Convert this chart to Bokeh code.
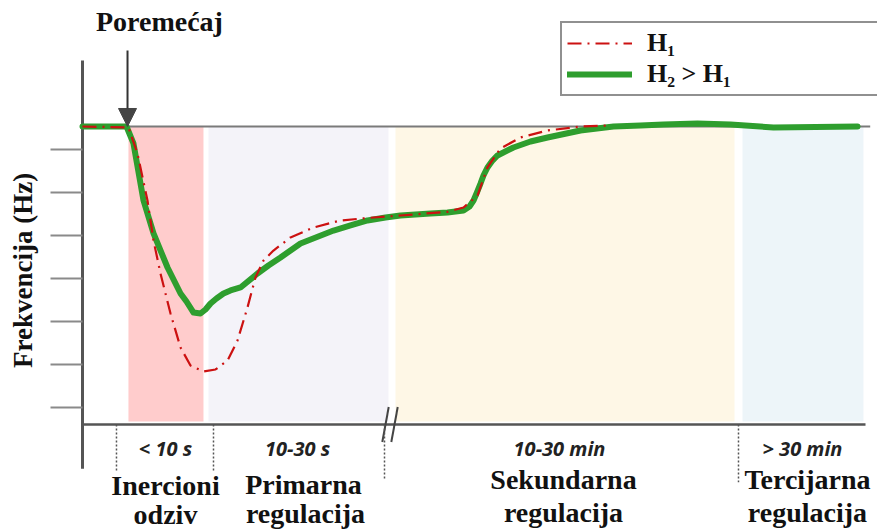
import numpy as np
from bokeh.plotting import figure
from bokeh.models import Range1d, Legend, LegendItem, Arrow, NormalHead
from bokeh.core.properties import value
from bokeh.embed import file_html
from bokeh.resources import INLINE

# ---------------- data (arbitrary time / frequency units) -------------
nominal = 7.535                      # nominal frequency level
y_ticks = [1, 2, 3, 4, 5, 6, 7]       # unlabeled frequency ticks
disturbance_t = 5.75                  # moment of the disturbance

# H2 > H1 (green, solid)
h2_t = [0, 5.62, 6.51, 7.79, 9.07, 10.86, 12.52, 13.28, 14.18, 15.07, 15.71, 16.35, 17.11,
        18.01, 18.90, 20.18, 22.35, 23.75, 25.29, 27.84, 32.06, 34.23, 36.40, 38.70, 40.61,
        44.44, 46.62, 48.66, 49.43, 49.94, 50.32, 50.83, 51.21, 51.72, 52.36, 53.00, 55.04,
        57.22, 59.39, 63.60, 67.82, 71.26, 74.20, 78.54, 82.76, 88.25, 98.98]
h2_f = [7.535, 7.535, 7.14, 5.814, 5.047, 4.256, 3.651, 3.465, 3.209, 3.186, 3.279, 3.419, 3.535,
        3.651, 3.721, 3.791, 4.116, 4.302, 4.488, 4.814, 5.116, 5.233, 5.349, 5.419, 5.465,
        5.512, 5.535, 5.582, 5.675, 5.814, 5.977, 6.209, 6.395, 6.582, 6.744, 6.861, 7.047,
        7.186, 7.279, 7.442, 7.535, 7.558, 7.581, 7.605, 7.581, 7.512, 7.535]

# H1 (red, dash-dot)
h1_t = [0, 5.87, 7.02, 8.30, 9.07, 9.96, 11.24, 12.52, 13.79, 15.45, 16.99, 18.52, 19.80,
        21.07, 22.09, 23.12, 24.39, 26.56, 29.50, 32.95, 37.16, 40.61, 46.62, 48.66, 50.45,
        51.72, 53.38, 55.94, 59.39, 63.60, 67.05]
h1_f = [7.535, 7.512, 6.907, 5.814, 4.884, 4.116, 3.186, 2.395, 1.977, 1.837, 1.884, 2.093, 2.558,
        3.326, 4.023, 4.419, 4.651, 4.954, 5.186, 5.349, 5.419, 5.465, 5.551, 5.651, 5.930,
        6.582, 7.023, 7.279, 7.442, 7.535, 7.558]

phase_start = [5.87, 16.09, 39.97, 84.29]
phase_end = [15.45, 39.08, 83.27, 99.74]
phase_names_1 = ["Inercioni", "Primarna", "Sekundarna", "Tercijarna"]
phase_names_2 = ["odziv", "regulacija", "regulacija", "regulacija"]
phase_durations = ["< 10 s", "10-30 s", "10-30 min", "> 30 min"]
separators = [4.34, 16.73, 38.57, 83.78]
legend_labels = ["H\u2081", "H\u2082 > H\u2081"]
y_title = "Frekvencija (Hz)"
event_title = "Poremećaj"

# ---------------- layout / style ----------------
W, H = 877, 530
PX_X = 7.83            # px per time unit
PX_Y = 43.0            # px per frequency unit
AX_X = 82              # canvas x of the frequency axis
Y1_CY = 407            # canvas y of frequency 1
x0 = -AX_X / PX_X
x1 = (W - AX_X) / PX_X
y_top = 1 + Y1_CY / PX_Y
y_bot = 1 - (H - Y1_CY) / PX_Y

time_axis_end = 100.0
freq_axis_bottom = 0.605
freq_axis_top = 9.07
shade_bottom = 0.674
phase_colors = ["#FFCCCC", "#F4F3F9", "#FEF7E6", "#EDF5F9"]
sep_bottoms = [-0.51, -0.51, -0.70, -0.74]

p = figure(width=W, height=H, x_range=Range1d(x0, x1), y_range=Range1d(y_bot, y_top),
           output_backend="svg", toolbar_location=None, min_border=0,
           x_axis_type=None, y_axis_type=None)
p.outline_line_color = None
p.background_fill_color = "white"

# phase shading
p.quad(left=phase_start, right=phase_end, top=[nominal] * 4, bottom=[shade_bottom] * 4,
       fill_color=phase_colors, line_color=None)

# nominal reference line
p.segment(x0=[0], y0=[nominal], x1=[100.6], y1=[nominal], line_color="#7a7a7a", line_width=2)

# axes
p.segment(x0=[0], y0=[freq_axis_bottom], x1=[time_axis_end], y1=[freq_axis_bottom],
          line_color="#555555", line_width=2.5)
p.segment(x0=[0], y0=[freq_axis_bottom - 1.03], x1=[0], y1=[freq_axis_top],
          line_color="#555555", line_width=3)
tick_len = 32 / PX_X
p.segment(x0=[-tick_len] * len(y_ticks), y0=y_ticks, x1=[0] * len(y_ticks), y1=y_ticks,
          line_color="#8a8a8a", line_width=2)

# axis break marks
brk = [38.70, 39.85]
dx, dy = 3.2 / PX_X, 17.5 / PX_Y
p.segment(x0=[b - dx for b in brk], y0=[freq_axis_bottom - dy] * 2,
          x1=[b + dx for b in brk], y1=[freq_axis_bottom + dy] * 2,
          line_color="#444444", line_width=2)

# separators
p.segment(x0=separators, y0=[freq_axis_bottom] * 4, x1=separators, y1=sep_bottoms,
          line_color="#555555", line_width=1.5, line_dash="2 2")

# curves
green = p.line(h2_t, h2_f, line_color="#2E9E2E", line_width=6, line_join="round", line_cap="round")
red = p.line(h1_t, h1_f, line_color="#CC1111", line_width=2.2, line_dash="14 6 2 6")

# disturbance arrow
p.add_layout(Arrow(x_start=disturbance_t, y_start=9.30, x_end=disturbance_t, y_end=nominal,
                   line_color="#333333", line_width=2,
                   end=NormalHead(size=18, fill_color="#444444", line_color="#444444")))

serif = value("Liberation Serif")
p.text(x=[9.83], y=[9.977], text=[event_title], text_font=serif, text_font_style="bold",
       text_font_size="28px", text_align="center", text_baseline="middle", text_color="#111111")

p.text(x=[-7.54], y=[4.19], text=[y_title], angle=np.pi / 2, text_font=serif,
       text_font_style="bold", text_font_size="27px", text_align="center",
       text_baseline="middle", text_color="#111111")

dur_x = [10.60, 27.46, 60.92, 91.95]
p.text(x=dur_x, y=[0.058] * 4, text=phase_durations, text_font=value("Open Sans"),
       text_font_style="bold italic", text_font_size="20px", text_align="center",
       text_baseline="middle", text_color="#222222")

n1_x = [10.60, 28.22, 61.43, 92.59]
n2_x = [10.60, 28.48, 61.43, 92.59]
p.text(x=n1_x, y=[-0.814, -0.791, -0.674, -0.674], text=phase_names_1, text_font=serif,
       text_font_style="bold", text_font_size="28px", text_align="center",
       text_baseline="middle", text_color="#111111")
p.text(x=n2_x, y=[-1.488, -1.465, -1.442, -1.442], text=phase_names_2, text_font=serif,
       text_font_style="bold", text_font_size="28px", text_align="center",
       text_baseline="middle", text_color="#111111")

legend = Legend(items=[LegendItem(label=legend_labels[0], renderers=[red]),
                       LegendItem(label=legend_labels[1], renderers=[green])],
                location=(560, H - 96), orientation="vertical",
                label_text_font="Liberation Serif", label_text_font_style="bold",
                label_text_font_size="26px", label_text_color="#111111",
                glyph_width=65, glyph_height=24, label_height=24, label_width=225,
                label_standoff=15, padding=5, spacing=1, margin=0,
                border_line_color="#222222", border_line_width=2,
                background_fill_color="white", background_fill_alpha=1)
p.add_layout(legend)

open("out.html", "w").write(file_html(p, INLINE))
